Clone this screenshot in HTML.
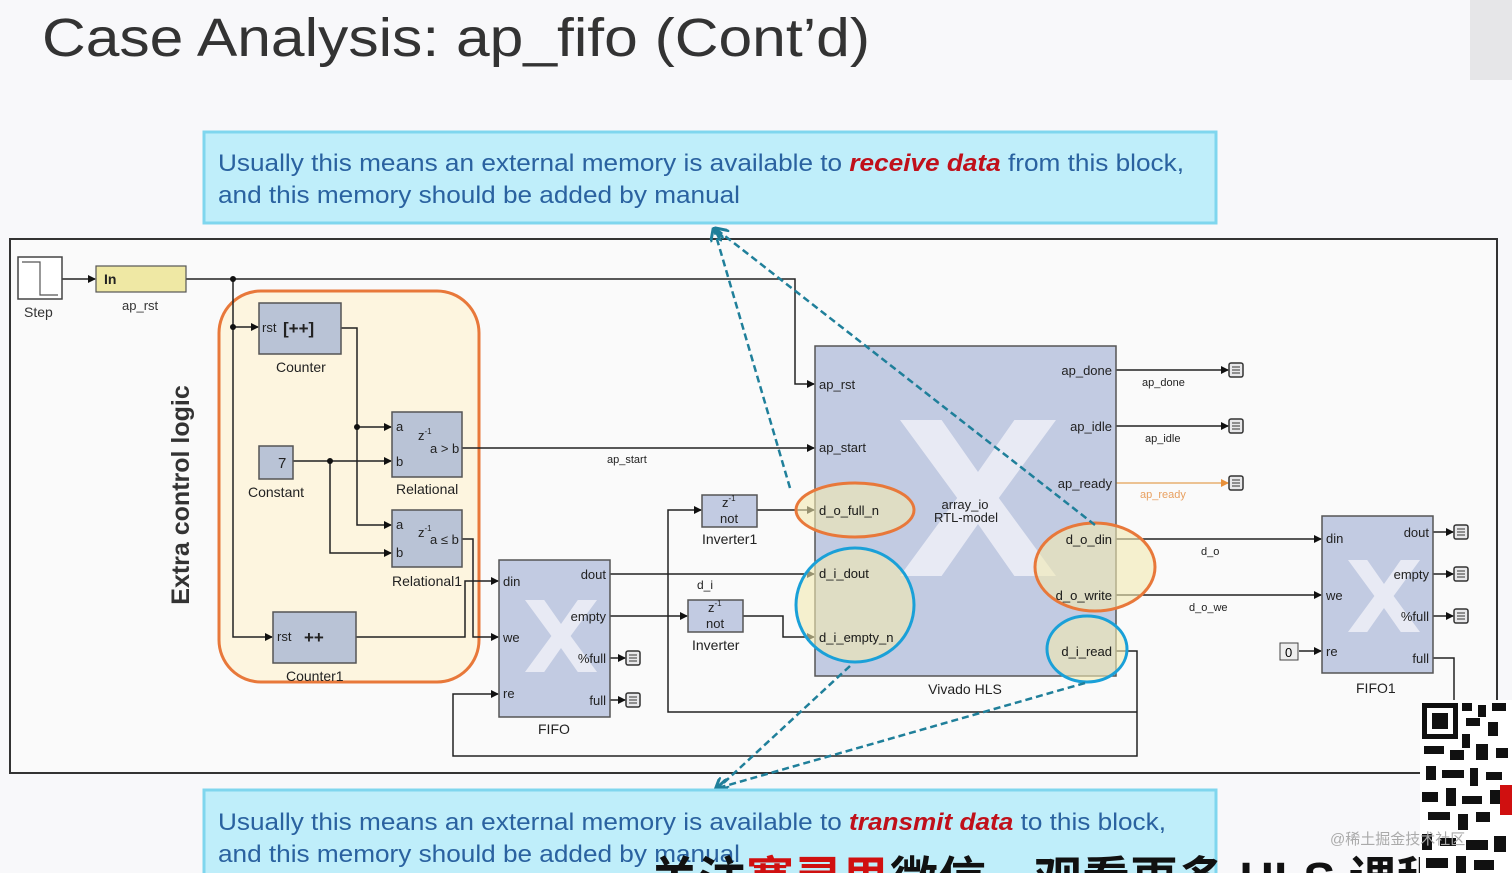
<!DOCTYPE html>
<html><head><meta charset="utf-8"><style>
html,body{margin:0;padding:0;background:#f7f7f9;}
svg{display:block;font-family:"Liberation Sans",Arial,sans-serif;}
</style></head><body>
<svg width="1512" height="873" viewBox="0 0 1512 873" xmlns="http://www.w3.org/2000/svg">
<defs>
<marker id="ar" markerWidth="8" markerHeight="8" refX="7" refY="4" orient="auto" markerUnits="userSpaceOnUse"><path d="M0,0 L8,4 L0,8 z" fill="#111"/></marker>
<marker id="ao" markerWidth="8" markerHeight="8" refX="7" refY="4" orient="auto" markerUnits="userSpaceOnUse"><path d="M0,0 L8,4 L0,8 z" fill="#e8903a"/></marker>
<marker id="at" markerWidth="14" markerHeight="14" refX="12" refY="7" orient="auto" markerUnits="userSpaceOnUse"><path d="M0,0 L14,7 L0,14" fill="none" stroke="#1f7f9a" stroke-width="3"/></marker>
<g id="x"><path d="M0,0 h16 l14,20 l14,-20 h16 l-22,30 l22,30 h-16 l-14,-20 l-14,20 h-16 l22,-30 z" fill="#eef0f7" opacity="0.85"/></g>
<g id="term"><rect x="0" y="-7" width="14" height="14" rx="2" fill="#e8e8ea" stroke="#333" stroke-width="1.5"/><path d="M3,-3 h8 M3,0 h8 M3,3 h8" stroke="#333" stroke-width="1"/></g>
</defs>
<rect x="0" y="0" width="1512" height="873" fill="#f8f8fa"/>
<rect x="1470" y="0" width="42" height="80" fill="#e6e6e8"/>
<text x="42" y="56" font-size="54" fill="#333" textLength="828" lengthAdjust="spacingAndGlyphs">Case Analysis: ap_fifo (Cont’d)</text>

<!-- top box -->
<rect x="204" y="132" width="1012" height="91" fill="#bfeefa" stroke="#7fd6ee" stroke-width="3"/>
<text x="218" y="171" font-size="24" fill="#2a62a0" textLength="966" lengthAdjust="spacingAndGlyphs">Usually this means an external memory is available to <tspan fill="#c0101a" font-weight="bold" font-style="italic">receive data</tspan> from this block,</text>
<text x="218" y="203" font-size="24" fill="#2a62a0" textLength="522" lengthAdjust="spacingAndGlyphs">and this memory should be added by manual</text>

<!-- frame -->
<rect x="10" y="239" width="1487" height="534" fill="#fafafa" stroke="#333" stroke-width="2"/>

<!-- orange group -->
<rect x="219" y="291" width="260" height="391" rx="42" fill="#fdf5df" stroke="#e8783a" stroke-width="3"/>
<text transform="translate(189,495) rotate(-90)" font-size="25" text-anchor="middle" fill="#333" font-weight="bold">Extra control logic</text>

<g stroke="#222" stroke-width="1.5" fill="none">
<!-- step -> In -->
<path d="M62,279 H95" marker-end="url(#ar)"/>
<path d="M186,279 H795 V384 H814" marker-end="url(#ar)"/>
<path d="M233,279 V637 H272" marker-end="url(#ar)"/>
<path d="M233,327 H258" marker-end="url(#ar)"/>
<!-- counter -> relationals -->
<path d="M341,328 H357 V427 H391" marker-end="url(#ar)"/>
<path d="M357,427 V525 H391" marker-end="url(#ar)"/>
<path d="M293,461 H391" marker-end="url(#ar)"/>
<path d="M330,461 V553 H391" marker-end="url(#ar)"/>
<path d="M462,448 H814" marker-end="url(#ar)"/>
<path d="M462,539 H473 V637 H498" marker-end="url(#ar)"/>
<path d="M356,637 H465 V581 H498" marker-end="url(#ar)"/>
<!-- fifo outputs -->
<path d="M610,574 H814" marker-end="url(#ar)"/>
<path d="M610,616 H687" marker-end="url(#ar)"/>
<path d="M743,616 H783 V637 H814" marker-end="url(#ar)"/>
<path d="M757,510 H814" marker-end="url(#ar)"/>
<path d="M1137,712 H668 V510 H701" marker-end="url(#ar)"/>
<path d="M610,658 H625" marker-end="url(#ar)"/>
<path d="M610,700 H625" marker-end="url(#ar)"/>
<path d="M1116,651 H1137 V756 H453 V694 H498" marker-end="url(#ar)"/>
<!-- HLS outputs -->
<path d="M1116,370 H1228" marker-end="url(#ar)"/>
<path d="M1116,426 H1228" marker-end="url(#ar)"/>
<path d="M1116,539 H1321" marker-end="url(#ar)"/>
<path d="M1116,595 H1321" marker-end="url(#ar)"/>
<path d="M1299,651 H1321" marker-end="url(#ar)"/>
<path d="M1433,532 H1453" marker-end="url(#ar)"/>
<path d="M1433,574 H1453" marker-end="url(#ar)"/>
<path d="M1433,616 H1453" marker-end="url(#ar)"/>
<path d="M1433,658 H1454 V700"/>
<path d="M1497,700 V773"/>
</g>
<path d="M1116,483 H1228" stroke="#e8b070" stroke-width="1.5" marker-end="url(#ao)"/>
<circle cx="233" cy="279" r="3" fill="#111"/><circle cx="233" cy="327" r="3" fill="#111"/>
<circle cx="357" cy="427" r="3" fill="#111"/><circle cx="330" cy="461" r="3" fill="#111"/>

<!-- Step -->
<rect x="18" y="257" width="44" height="42" fill="#fff" stroke="#444" stroke-width="1.5"/>
<path d="M22,262 H40 V295 H58" stroke="#555" fill="none" stroke-width="1.2"/>
<text x="24" y="317" font-size="14" fill="#333">Step</text>
<!-- In -->
<rect x="96" y="266" width="90" height="26" fill="#efe8a4" stroke="#555" stroke-width="1.2"/>
<text x="104" y="284" font-size="14" font-weight="bold" fill="#222">In</text>
<text x="122" y="310" font-size="13" fill="#333">ap_rst</text>

<!-- blocks -->
<g fill="#b9c3d6" stroke="#555" stroke-width="1.5">
<rect x="259" y="303" width="82" height="51"/>
<rect x="273" y="612" width="83" height="51"/>
<rect x="259" y="446" width="34" height="33"/>
<rect x="392" y="412" width="70" height="65"/>
<rect x="392" y="510" width="70" height="57"/>
<rect x="499" y="560" width="111" height="157" fill="#c2cbe2"/>
<rect x="702" y="495" width="55" height="32" fill="#c2cbe2"/>
<rect x="688" y="600" width="55" height="32" fill="#c2cbe2"/>
<rect x="815" y="346" width="301" height="330" fill="#c2cbe2"/>
<rect x="1322" y="516" width="111" height="157" fill="#c2cbe2"/>
</g>
<use href="#x" transform="translate(900,420) scale(2.6)"/>
<use href="#x" transform="translate(525,600) scale(1.2)"/>
<use href="#x" transform="translate(1348,560) scale(1.2)"/>
<g font-size="13" fill="#222">
<text x="262" y="332">rst</text><text x="283" y="334" font-size="17" font-weight="bold">[++]</text>
<text x="276" y="372" font-size="14">Counter</text>
<text x="277" y="641">rst</text><text x="304" y="643" font-size="17" font-weight="bold">++</text>
<text x="286" y="681" font-size="14">Counter1</text>
<text x="278" y="468" font-size="15">7</text>
<text x="248" y="497" font-size="14">Constant</text>
<text x="396" y="431">a</text><text x="396" y="466">b</text><text x="418" y="440">z<tspan font-size="8" dy="-6">-1</tspan></text><text x="430" y="453">a &gt; b</text>
<text x="396" y="529">a</text><text x="396" y="557">b</text><text x="418" y="537">z<tspan font-size="8" dy="-6">-1</tspan></text><text x="430" y="544">a ≤ b</text>
<text x="396" y="494" font-size="14">Relational</text>
<text x="392" y="586" font-size="14">Relational1</text>
<text x="503" y="586">din</text><text x="503" y="642">we</text><text x="503" y="698">re</text>
<text x="606" y="579" text-anchor="end">dout</text><text x="606" y="621" text-anchor="end">empty</text><text x="606" y="663" text-anchor="end">%full</text><text x="606" y="705" text-anchor="end">full</text>
<text x="538" y="734" font-size="14">FIFO</text>
<text x="722" y="507">z<tspan font-size="8" dy="-6">-1</tspan></text><text x="720" y="523">not</text>
<text x="702" y="544" font-size="14">Inverter1</text>
<text x="708" y="612">z<tspan font-size="8" dy="-6">-1</tspan></text><text x="706" y="628">not</text>
<text x="692" y="650" font-size="14">Inverter</text>
<text x="697" y="589" font-size="12">d_i</text>
<text x="607" y="463" font-size="11">ap_start</text>
<text x="819" y="389">ap_rst</text><text x="819" y="452">ap_start</text>
<text x="819" y="515">d_o_full_n</text><text x="819" y="578">d_i_dout</text><text x="819" y="642">d_i_empty_n</text>
<text x="1112" y="375" text-anchor="end">ap_done</text><text x="1112" y="431" text-anchor="end">ap_idle</text><text x="1112" y="488" text-anchor="end">ap_ready</text>
<text x="1112" y="544" text-anchor="end">d_o_din</text><text x="1112" y="600" text-anchor="end">d_o_write</text><text x="1112" y="656" text-anchor="end">d_i_read</text>
<text x="965" y="509" text-anchor="middle">array_io</text><text x="966" y="522" text-anchor="middle">RTL-model</text>
<text x="965" y="694" text-anchor="middle" font-size="14">Vivado HLS</text>
<text x="1142" y="386" font-size="11">ap_done</text><text x="1145" y="442" font-size="11">ap_idle</text>
<text x="1140" y="498" font-size="11" fill="#e8a060">ap_ready</text>
<text x="1201" y="555" font-size="11">d_o</text><text x="1189" y="611" font-size="11">d_o_we</text>
<text x="1326" y="543">din</text><text x="1326" y="600">we</text><text x="1326" y="656">re</text>
<text x="1429" y="537" text-anchor="end">dout</text><text x="1429" y="579" text-anchor="end">empty</text><text x="1429" y="621" text-anchor="end">%full</text><text x="1429" y="663" text-anchor="end">full</text>
<text x="1356" y="693" font-size="14">FIFO1</text>
</g>
<rect x="1280" y="643" width="18" height="17" fill="#eee" stroke="#444"/><text x="1285" y="657" font-size="13">0</text>
<use href="#term" transform="translate(1229,370)"/><use href="#term" transform="translate(1229,426)"/><use href="#term" transform="translate(1229,483)"/>
<use href="#term" transform="translate(626,658)"/><use href="#term" transform="translate(626,700)"/>
<use href="#term" transform="translate(1454,532)"/><use href="#term" transform="translate(1454,574)"/><use href="#term" transform="translate(1454,616)"/>

<!-- ellipses -->
<ellipse cx="855" cy="510" rx="59" ry="27" fill="#f2eab0" fill-opacity="0.6" stroke="#e8783a" stroke-width="3"/>
<ellipse cx="855" cy="605" rx="59" ry="57" fill="#f2eab0" fill-opacity="0.6" stroke="#1aa0d8" stroke-width="3"/>
<ellipse cx="1095" cy="567" rx="60" ry="44" fill="#f2eab0" fill-opacity="0.6" stroke="#e8783a" stroke-width="3"/>
<ellipse cx="1087" cy="649" rx="40" ry="33" fill="#f2eab0" fill-opacity="0.6" stroke="#1aa0d8" stroke-width="3"/>
<g fill="#222" font-size="13">
<text x="819" y="515">d_o_full_n</text><text x="819" y="578">d_i_dout</text><text x="819" y="642">d_i_empty_n</text>
<text x="1112" y="544" text-anchor="end">d_o_din</text><text x="1112" y="600" text-anchor="end">d_o_write</text><text x="1112" y="656" text-anchor="end">d_i_read</text>
</g>

<!-- dashed callouts -->
<g stroke="#1f7f9a" stroke-width="2.5" stroke-dasharray="7,4" fill="none">
<path d="M790,488 L714,229" marker-end="url(#at)"/>
<path d="M1095,525 L716,229" marker-end="url(#at)"/>
<path d="M850,666 L716,790" marker-end="url(#at)"/>
<path d="M1085,683 L718,788" marker-end="url(#at)"/>
</g>

<!-- bottom box -->
<rect x="204" y="790" width="1012" height="90" fill="#bfeefa" stroke="#7fd6ee" stroke-width="3"/>
<text x="218" y="830" font-size="24" fill="#2a62a0" textLength="948" lengthAdjust="spacingAndGlyphs">Usually this means an external memory is available to <tspan fill="#c0101a" font-weight="bold" font-style="italic">transmit data</tspan> to this block,</text>
<text x="218" y="862" font-size="24" fill="#2a62a0" textLength="522" lengthAdjust="spacingAndGlyphs">and this memory should be added by manual</text>
<text x="650" y="896" font-size="48" fill="#111" font-family="'Liberation Sans','Noto Sans CJK SC',sans-serif" font-weight="bold">关注<tspan fill="#d01010">赛灵思</tspan>微信，观看更多 HLS 课程</text>

<!-- QR -->
<rect x="1420" y="700" width="92" height="173" fill="#fff"/>
<g fill="#111">
<rect x="1422" y="703" width="36" height="36"/><rect x="1427" y="708" width="26" height="26" fill="#fff"/><rect x="1432" y="713" width="16" height="16"/>
<rect x="1462" y="703" width="10" height="8"/><rect x="1478" y="705" width="8" height="12"/><rect x="1492" y="703" width="14" height="8"/>
<rect x="1466" y="718" width="14" height="8"/><rect x="1488" y="722" width="10" height="14"/><rect x="1462" y="734" width="8" height="14"/>
<rect x="1424" y="746" width="20" height="8"/><rect x="1450" y="750" width="14" height="10"/><rect x="1476" y="744" width="12" height="16"/><rect x="1496" y="748" width="12" height="10"/>
<rect x="1426" y="766" width="10" height="14"/><rect x="1442" y="770" width="22" height="8"/><rect x="1470" y="768" width="8" height="18"/><rect x="1486" y="772" width="16" height="8"/>
<rect x="1422" y="792" width="16" height="10"/><rect x="1446" y="788" width="10" height="18"/><rect x="1462" y="796" width="20" height="8"/><rect x="1490" y="790" width="10" height="14"/>
<rect x="1428" y="812" width="22" height="8"/><rect x="1458" y="814" width="10" height="16"/><rect x="1476" y="812" width="14" height="10"/>
<rect x="1422" y="834" width="10" height="16"/><rect x="1440" y="838" width="16" height="8"/><rect x="1466" y="840" width="22" height="10"/><rect x="1494" y="836" width="12" height="16"/>
<rect x="1426" y="858" width="22" height="10"/><rect x="1456" y="856" width="10" height="17"/><rect x="1474" y="860" width="20" height="10"/>
</g>
<rect x="1500" y="785" width="12" height="30" fill="#d01010"/>
<text x="1330" y="844" font-size="15" fill="#aaa" font-family="'Liberation Sans','Noto Sans CJK SC',sans-serif">@稀土掘金技术社区</text>
</svg>
</body></html>
